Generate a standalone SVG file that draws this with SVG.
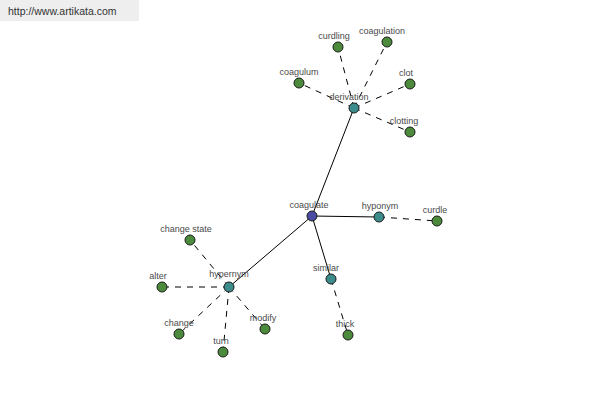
<svg xmlns="http://www.w3.org/2000/svg" width="600" height="400" viewBox="0 0 600 400">
<style>
.n{stroke:#1a1a1a;stroke-width:1}
.root{fill:#4b4ba0}
.rel{fill:#3c8c8c}
.leaf{fill:#4c8a3c}
.solid{stroke:#000;stroke-width:1;fill:none}
.dash{stroke:#000;stroke-width:1;fill:none;stroke-dasharray:6,6}
text{font-family:"Liberation Sans",Arial,sans-serif;font-size:9px;fill:#4a4a4a;text-anchor:middle}
.hdr{font-size:10.5px;fill:#333;text-anchor:start}
</style>
<rect width="600" height="400" fill="#fff"/>
<rect x="0" y="0" width="139" height="21" fill="#eeeeee"/>
<text class="hdr" x="8" y="15">http://www.artikata.com</text>
<g id="connectors">
<line class="solid" x1="312" y1="216" x2="354" y2="108"/>
<line class="solid" x1="312" y1="216" x2="379" y2="217"/>
<line class="solid" x1="312" y1="216" x2="331" y2="279"/>
<line class="solid" x1="312" y1="216" x2="229" y2="287"/>
<line class="dash" x1="379" y1="217" x2="437" y2="221"/>
<line class="dash" x1="331" y1="279" x2="348" y2="335"/>
<line class="dash" x1="229" y1="287" x2="190" y2="240"/>
<line class="dash" x1="229" y1="287" x2="162" y2="287"/>
<line class="dash" x1="229" y1="287" x2="179" y2="334"/>
<line class="dash" x1="229" y1="287" x2="223" y2="352"/>
<line class="dash" x1="229" y1="287" x2="265" y2="329"/>
<line class="dash" x1="354" y1="108" x2="299" y2="83"/>
<line class="dash" x1="354" y1="108" x2="338" y2="47"/>
<line class="dash" x1="354" y1="108" x2="387" y2="42"/>
<line class="dash" x1="354" y1="108" x2="410" y2="84"/>
<line class="dash" x1="354" y1="108" x2="410" y2="132"/>
</g>
<g id="coagulate"><circle class="n root" cx="312" cy="216" r="5"/><text x="309" y="208">coagulate</text></g>
<g id="derivation"><circle class="n rel" cx="354" cy="108" r="5"/><text x="349" y="100">derivation</text></g>
<g id="hyponym"><circle class="n rel" cx="379" cy="217" r="5"/><text x="380" y="209">hyponym</text></g>
<g id="similar"><circle class="n rel" cx="331" cy="279" r="5"/><text x="326" y="271">similar</text></g>
<g id="hypernym"><circle class="n rel" cx="229" cy="287" r="5"/><text x="229" y="277">hypernym</text></g>
<g id="curdle"><circle class="n leaf" cx="437" cy="221" r="5"/><text x="435" y="213">curdle</text></g>
<g id="thick"><circle class="n leaf" cx="348" cy="335" r="5"/><text x="345" y="327">thick</text></g>
<g id="change_state"><circle class="n leaf" cx="190" cy="240" r="5"/><text x="186" y="232">change state</text></g>
<g id="alter"><circle class="n leaf" cx="162" cy="287" r="5"/><text x="158" y="279">alter</text></g>
<g id="change"><circle class="n leaf" cx="179" cy="334" r="5"/><text x="179" y="326">change</text></g>
<g id="turn"><circle class="n leaf" cx="223" cy="352" r="5"/><text x="221" y="344">turn</text></g>
<g id="modify"><circle class="n leaf" cx="265" cy="329" r="5"/><text x="263" y="321">modify</text></g>
<g id="coagulum"><circle class="n leaf" cx="299" cy="83" r="5"/><text x="299" y="75">coagulum</text></g>
<g id="curdling"><circle class="n leaf" cx="338" cy="47" r="5"/><text x="334" y="39">curdling</text></g>
<g id="coagulation"><circle class="n leaf" cx="387" cy="42" r="5"/><text x="382" y="34">coagulation</text></g>
<g id="clot"><circle class="n leaf" cx="410" cy="84" r="5"/><text x="406" y="76">clot</text></g>
<g id="clotting"><circle class="n leaf" cx="410" cy="132" r="5"/><text x="404" y="124">clotting</text></g>
</svg>
